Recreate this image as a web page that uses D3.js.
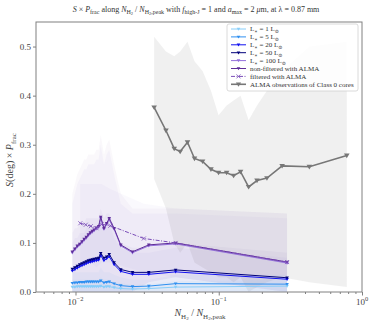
<!DOCTYPE html>
<html><head><meta charset="utf-8">
<script src="https://cdn.jsdelivr.net/npm/d3@7"></script>
<style>body{margin:0;background:#fff}svg{display:block}text{font-family:"Liberation Serif","DejaVu Serif",serif}</style>
</head><body><svg id="c" width="377" height="323"></svg>
<script>
// ---- data ----
const xSim = [0.0095,0.0099,0.0103,0.0107,0.0111,0.0115,0.0119,0.0123,0.0127,0.0131,0.0135,0.0140,0.0145,0.0150,0.0158,0.0165,0.0172,0.0186,0.0207,0.0250,0.0325,0.0500,0.3000];
const yL1   = [0.010,0.010,0.011,0.011,0.011,0.011,0.011,0.011,0.011,0.011,0.011,0.011,0.011,0.012,0.010,0.011,0.011,0.009,0.007,0.006,0.007,0.010,0.012];
const yL5   = [0.018,0.019,0.019,0.020,0.020,0.020,0.021,0.021,0.021,0.021,0.021,0.021,0.021,0.023,0.019,0.020,0.021,0.017,0.013,0.011,0.012,0.017,0.016];
const yL20  = [0.043,0.046,0.049,0.052,0.054,0.056,0.058,0.060,0.061,0.062,0.063,0.064,0.065,0.074,0.064,0.068,0.072,0.056,0.042,0.036,0.036,0.041,0.026];
const yL50  = [0.047,0.050,0.053,0.056,0.058,0.060,0.062,0.064,0.065,0.066,0.067,0.068,0.069,0.079,0.069,0.072,0.077,0.060,0.046,0.040,0.040,0.045,0.029];
const yL100 = [0.080,0.086,0.092,0.096,0.101,0.106,0.110,0.115,0.119,0.122,0.125,0.129,0.132,0.150,0.128,0.138,0.147,0.128,0.094,0.080,0.094,0.098,0.059];
const yNonF = [0.082,0.088,0.094,0.098,0.103,0.108,0.112,0.117,0.121,0.124,0.127,0.131,0.134,0.153,0.130,0.140,0.150,0.130,0.096,0.082,0.096,0.100,0.061];
const xFilt = [0.0108,0.0118,0.0128,0.0140,0.0152,0.0175,0.0300,0.0500,0.3000];
const yFilt = [0.140,0.137,0.134,0.130,0.138,0.135,0.109,0.100,0.061];
// spread bands (upper / lower)
const hiNonF = [0.20,0.22,0.24,0.25,0.26,0.27,0.27,0.28,0.28,0.28,0.28,0.29,0.29,0.32,0.28,0.30,0.31,0.26,0.20,0.17,0.17,0.17,0.16];
const loNonF = [0.00,0.00,0.00,0.00,0.00,0.00,0.00,0.00,0.00,0.00,0.00,0.00,0.00,0.00,0.00,0.00,0.00,0.00,0.00,0.00,0.02,0.03,0.00];
const hiL100 = [0.18,0.20,0.22,0.23,0.24,0.25,0.25,0.26,0.26,0.26,0.26,0.27,0.27,0.30,0.26,0.28,0.29,0.24,0.18,0.16,0.16,0.16,0.15];
const loL100 = [0.00,0.00,0.00,0.00,0.00,0.00,0.00,0.00,0.00,0.00,0.00,0.00,0.00,0.00,0.00,0.00,0.00,0.00,0.00,0.00,0.02,0.03,0.00];
const hiFilt = [0.22,0.22,0.22,0.22,0.22,0.21,0.18,0.17,0.16];
const loFilt = [0.06,0.06,0.06,0.05,0.06,0.06,0.04,0.03,0.00];
const hiL50  = [0.12,0.13,0.13,0.14,0.14,0.14,0.15,0.15,0.15,0.15,0.15,0.15,0.15,0.17,0.15,0.16,0.16,0.13,0.10,0.09,0.09,0.10,0.08];
const hiL20  = [0.10,0.11,0.11,0.12,0.12,0.12,0.13,0.13,0.13,0.13,0.13,0.13,0.13,0.15,0.13,0.14,0.14,0.11,0.09,0.08,0.08,0.09,0.07];
const hiL5   = [0.04,0.04,0.04,0.04,0.04,0.04,0.04,0.04,0.04,0.04,0.04,0.04,0.04,0.05,0.04,0.04,0.04,0.035,0.03,0.025,0.025,0.035,0.035];
const hiL1   = [0.025,0.025,0.025,0.025,0.025,0.025,0.025,0.025,0.025,0.025,0.025,0.025,0.025,0.03,0.025,0.025,0.025,0.02,0.018,0.015,0.016,0.022,0.025];
const zeroSim = xSim.map(()=>0);
const xObs = [0.0354,0.0428,0.0489,0.0538,0.0605,0.0677,0.0771,0.0882,0.0997,0.1135,0.127,0.142,0.1616,0.185,0.217,0.277,0.429,0.783];
const yObs = [0.376,0.329,0.292,0.286,0.305,0.272,0.266,0.250,0.243,0.243,0.237,0.245,0.214,0.227,0.232,0.257,0.255,0.278];
const hiObs = [0.52,0.49,0.48,0.49,0.51,0.47,0.45,0.41,0.36,0.38,0.39,0.40,0.35,0.38,0.41,0.45,0.50,0.51];
const loObs = [0.23,0.17,0.10,0.08,0.10,0.06,0.05,0.04,0.03,0.03,0.02,0.03,0.00,0.01,0.02,0.03,0.02,0.01];
const yTicks = [0.0,0.1,0.2,0.3,0.4,0.5];
const xTicks = [0.01,0.1,1];
const xTickLabels = ["−2","−1","0"];
const legendLabels = ["1","5","20","50","100"];

// ---- layout ----
const W=377,H=323,m={l:36,r:15,t:22,b:31};
const svg=d3.select("#c");
const x=d3.scaleLog().domain([0.0053,1]).range([m.l,W-m.r]);
const y=d3.scaleLinear().domain([0,0.55]).range([H-m.b,m.t]);
const g=svg.append("g");
svg.append("defs").append("clipPath").attr("id","cp").append("rect").attr("x",m.l).attr("y",m.t).attr("width",W-m.l-m.r).attr("height",H-m.t-m.b);
g.attr("clip-path","url(#cp)");

function band(xs,lo,hi,color,op){
  const a=d3.area().x((d,i)=>x(xs[i])).y0((d,i)=>y(lo[i])).y1((d,i)=>y(hi[i]));
  g.append("path").datum(xs).attr("d",a).attr("fill",color).attr("fill-opacity",op).attr("stroke","none");
}
band(xObs,loObs,hiObs,"#c8c8c8",0.28);
band(xSim,loL100,hiL100,"#9370db",0.05);
band(xSim,loNonF,hiNonF,"#663399",0.035);
band(xFilt,loFilt,hiFilt,"#8a5fc8",0.04);
band(xSim,zeroSim,hiL50,"#4b3c9a",0.04);
band(xSim,zeroSim,hiL20,"#5a50c8",0.04);
band(xSim,zeroSim,hiL5,"#6aa8f0",0.06);
band(xSim,zeroSim,hiL1,"#87cefa",0.1);

const tri=(s)=>`M${-s},${-s*0.7}L${s},${-s*0.7}L0,${s*0.95}Z`;
function series(xs,ys,color,opt){
  opt=opt||{};
  const l=d3.line().x((d,i)=>x(xs[i])).y((d,i)=>y(ys[i]));
  g.append("path").datum(xs).attr("d",l).attr("fill","none").attr("stroke",color)
   .attr("stroke-width",opt.w||1).attr("stroke-dasharray",opt.dash||null);
  const mk=g.append("g");
  xs.forEach((xv,i)=>{
    const t=`translate(${x(xv)},${y(ys[i])})`;
    if(opt.marker==="x"){
      mk.append("path").attr("transform",t).attr("d","M-2,-2L2,2M-2,2L2,-2").attr("stroke",color).attr("stroke-width",0.8);
    } else {
      mk.append("path").attr("transform",t).attr("d",tri(opt.ms||1.8)).attr("fill",color);
    }
  });
}
const colors={L1:"#87cefa",L5:"#2e8ff0",L20:"#1010f0",L50:"#00007a",L100:"#9370db",nonF:"#5e2d98",filt:"#7a4cb8",obs:"#777777"};
series(xSim,yL1,colors.L1);
series(xSim,yL5,colors.L5);
series(xSim,yL20,colors.L20);
series(xSim,yL50,colors.L50);
series(xSim,yL100,colors.L100);
series(xSim,yNonF,colors.nonF);
series(xFilt,yFilt,colors.filt,{marker:"x",dash:"4,1.5,1,1.5"});
series(xObs,yObs,colors.obs,{w:1.6,ms:2.8});

// ---- axes ----
const ax=svg.append("g");
ax.append("rect").attr("x",m.l).attr("y",m.t).attr("width",W-m.l-m.r).attr("height",H-m.t-m.b).attr("fill","none").attr("stroke","#808080").attr("stroke-width",1);
const yA=ax.append("g").attr("transform",`translate(${m.l},0)`).call(d3.axisLeft(y).tickValues(yTicks).tickFormat(d3.format(".1f")).tickSize(3).tickPadding(2));
const minors=[];
for(let e=-3;e<0;e++)for(let k=2;k<10;k++){const v=k*Math.pow(10,e);if(v>=0.0053&&v<=1)minors.push(v);}
const xA=ax.append("g").attr("transform",`translate(0,${H-m.b})`).call(d3.axisBottom(x).tickValues(xTicks).tickFormat("").tickSize(3.5));
const xM=ax.append("g").attr("transform",`translate(0,${H-m.b})`).call(d3.axisBottom(x).tickValues(minors).tickFormat("").tickSize(2));
[yA,xA,xM].forEach(a=>{a.select(".domain").remove();a.selectAll("line").attr("stroke","#808080");a.selectAll("text").attr("fill","#444").attr("font-size",9).attr("font-family","Liberation Serif");});
xTicks.forEach((v,i)=>{
  const t=ax.append("text").attr("x",x(v)).attr("y",H-m.b+13).attr("text-anchor","middle").attr("fill","#444").attr("font-size",9);
  t.append("tspan").text("10");
  t.append("tspan").attr("dy",-4).attr("font-size",6.5).text(xTickLabels[i]);
});

// axis labels
const xl=svg.append("text").attr("x",200).attr("y",316).attr("text-anchor","middle").attr("fill","#444").attr("font-size",10);
xl.append("tspan").attr("font-style","italic").text("N");
xl.append("tspan").attr("dy",2.5).attr("font-size",7).text("H");
xl.append("tspan").attr("dy",1.5).attr("font-size",5).text("2");
xl.append("tspan").attr("dy",-4).text(" / ");
xl.append("tspan").attr("font-style","italic").text("N");
xl.append("tspan").attr("dy",2.5).attr("font-size",7).text("H");
xl.append("tspan").attr("dy",1.5).attr("font-size",5).text("2");
xl.append("tspan").attr("dy",-1.5).attr("font-size",7).text(",peak");

const yl=svg.append("text").attr("transform","translate(13,160) rotate(-90)").attr("text-anchor","middle").attr("fill","#444").attr("font-size",10);
yl.append("tspan").attr("font-style","italic").text("S");
yl.append("tspan").text("(deg) × ");
yl.append("tspan").attr("font-style","italic").text("P");
yl.append("tspan").attr("dy",2.5).attr("font-size",7).text("frac");

// title
const tt=svg.append("text").attr("x",196).attr("y",12).attr("text-anchor","middle").attr("fill","#333").attr("font-size",8);
tt.append("tspan").attr("font-style","italic").text("S");
tt.append("tspan").text(" × ");
tt.append("tspan").attr("font-style","italic").text("P");
tt.append("tspan").attr("dy",2).attr("font-size",6).text("frac");
tt.append("tspan").attr("dy",-2).text(" along ");
tt.append("tspan").attr("font-style","italic").text("N");
tt.append("tspan").attr("dy",2).attr("font-size",6).text("H");
tt.append("tspan").attr("dy",1).attr("font-size",4.5).text("2");
tt.append("tspan").attr("dy",-3).text(" / ");
tt.append("tspan").attr("font-style","italic").text("N");
tt.append("tspan").attr("dy",2).attr("font-size",6).text("H");
tt.append("tspan").attr("dy",1).attr("font-size",4.5).text("2");
tt.append("tspan").attr("dy",-1).attr("font-size",6).text(",peak");
tt.append("tspan").attr("dy",-2).text(" with ");
tt.append("tspan").attr("font-style","italic").text("f");
tt.append("tspan").attr("dy",2).attr("font-size",6).text("high-J");
tt.append("tspan").attr("dy",-2).text(" = 1 and ");
tt.append("tspan").attr("font-style","italic").text("a");
tt.append("tspan").attr("dy",2).attr("font-size",6).text("max");
tt.append("tspan").attr("dy",-2).text(" = 2 ");
tt.append("tspan").attr("font-style","italic").text("μ");
tt.append("tspan").text("m,  at λ = 0.87 mm");

// legend
const lg=svg.append("g");
lg.append("rect").attr("x",227).attr("y",24).attr("width",131).attr("height",67).attr("rx",2).attr("fill","#fff").attr("fill-opacity",0.85).attr("stroke","#d0d0d0").attr("stroke-width",0.8);
const items=[
  {c:colors.L1,t:"L1"},{c:colors.L5,t:"L5"},{c:colors.L20,t:"L20"},{c:colors.L50,t:"L50"},{c:colors.L100,t:"L100"},
  {c:colors.nonF,lab:"non-filtered with ALMA"},{c:colors.filt,lab:"filtered with ALMA",marker:"x",dash:"4,1.5,1,1.5"},
  {c:colors.obs,lab:"ALMA observations of Class 0 cores",w:1.6,ms:2.6}
];
items.forEach((it,i)=>{
  const yy=29+i*7.9;
  lg.append("line").attr("x1",231).attr("x2",246).attr("y1",yy).attr("y2",yy).attr("stroke",it.c).attr("stroke-width",it.w||1).attr("stroke-dasharray",it.dash||null);
  if(it.marker==="x") lg.append("path").attr("transform",`translate(238.5,${yy})`).attr("d","M-2,-2L2,2M-2,2L2,-2").attr("stroke",it.c).attr("stroke-width",0.8);
  else lg.append("path").attr("transform",`translate(238.5,${yy})`).attr("d",tri(it.ms||1.8)).attr("fill",it.c);
  const t=lg.append("text").attr("x",250).attr("y",yy+2.4).attr("font-size",7).attr("fill","#333");
  if(it.lab){t.text(it.lab);}
  else{
    const n=legendLabels[i];
    t.append("tspan").text("L");
    t.append("tspan").attr("dy",1.5).attr("font-size",5).text("∗");
    t.append("tspan").attr("dy",-1.5).text(" = "+n+" L");
    t.append("tspan").attr("dy",1.5).attr("font-size",5).text("⊙");
  }
});
</script></body></html>
